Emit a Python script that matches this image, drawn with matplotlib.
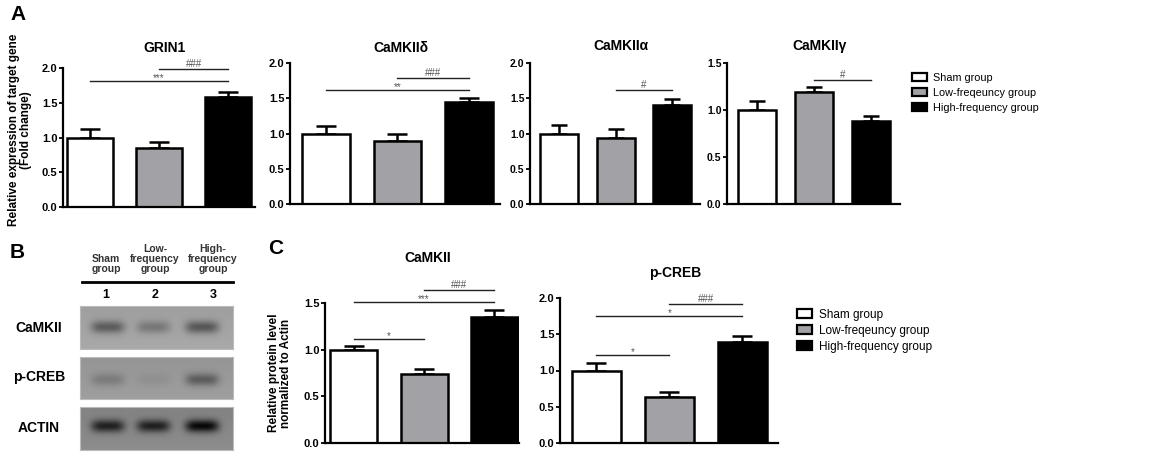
import numpy as np
import matplotlib.pyplot as plt
from matplotlib.patches import Patch

plt.rcParams["font.family"] = ["Liberation Sans", "DejaVu Sans"]

W, H = 1149, 453

groups = ["Sham group", "Low-freqeuncy group", "High-frequency group"]
bar_colors = ["#ffffff", "#a2a2a6", "#000000"]

# panel A: qPCR
grin1_mean = [1.00, 0.85, 1.58]
grin1_err = [0.12, 0.08, 0.08]
camk2d_mean = [1.00, 0.90, 1.45]
camk2d_err = [0.10, 0.10, 0.05]
camk2a_mean = [1.00, 0.94, 1.40]
camk2a_err = [0.12, 0.13, 0.09]
camk2g_mean = [1.00, 1.19, 0.885]
camk2g_err = [0.10, 0.05, 0.055]

# panel C: densitometry
prot_camk2_mean = [1.00, 0.74, 1.35]
prot_camk2_err = [0.035, 0.055, 0.08]
prot_pcreb_mean = [1.00, 0.63, 1.40]
prot_pcreb_err = [0.11, 0.08, 0.07]

# significance brackets: (from bar, to bar, y, label)
grin1_sig = [(1, 2, 1.99, "###"), (0, 2, 1.81, "***")]
camk2d_sig = [(1, 2, 1.79, "###"), (0, 2, 1.62, "**")]
camk2a_sig = [(1, 2, 1.62, "#")]
camk2g_sig = [(1, 2, 1.32, "#")]
prot_camk2_sig = [(1, 2, 1.64, "###"), (0, 2, 1.51, "***"), (0, 1, 1.11, "*")]
prot_pcreb_sig = [(1, 2, 1.92, "###"), (0, 2, 1.75, "*"), (0, 1, 1.21, "*")]

# panel B: western blot band strengths per lane
blot_rows = ["CaMKII", "p-CREB", "ACTIN"]
blot_band = {"CaMKII": [0.28, 0.17, 0.30], "p-CREB": [0.12, 0.04, 0.24], "ACTIN": [0.40, 0.40, 0.50]}
blot_bg = {"CaMKII": 0.64, "p-CREB": 0.60, "ACTIN": 0.53}
blot_band_y = {"CaMKII": 0.49, "p-CREB": 0.55, "ACTIN": 0.44}
lane_labels = ["Sham\ngroup", "Low-\nfrequency\ngroup", "High-\nfrequency\ngroup"]
lane_numbers = ["1", "2", "3"]

fig = plt.figure(figsize=(W / 100, H / 100), dpi=100)


def px_axes(x0, x1, y_top, y_bot):
    return fig.add_axes([x0 / W, 1 - y_bot / H, (x1 - x0) / W, (y_bot - y_top) / H])


def bar_panel(x0, x1, y_top, y_bot, xlim, ymax, means, errs, sigs, title, title_y, cap, tick_fs=8):
    ax = px_axes(x0, x1, y_top, y_bot)
    xs = np.arange(len(means))
    ax.bar(xs, means, width=0.67, color=bar_colors, edgecolor="black", linewidth=1.8, zorder=2)
    ax.errorbar(xs, means, yerr=[np.zeros(len(errs)), errs], fmt="none", ecolor="black",
                elinewidth=1.8, capsize=cap, capthick=1.8, zorder=1)
    for i, j, y, lab in sigs:
        ax.plot([i, j], [y, y], color="#222222", linewidth=1.0, clip_on=False)
        # asterisks sit high in the glyph box, hashes sit on the baseline
        dy = 0.0 if lab.startswith("*") else 1.5
        ax.annotate(lab, ((i + j) / 2, y), xytext=(0, dy), textcoords="offset points",
                    ha="center", va="baseline", fontsize=7, color="#555555",
                    annotation_clip=False)
    ax.set_xlim(*xlim)
    ax.set_ylim(0, ymax)
    ticks = np.arange(0, ymax + 0.01, 0.5)
    ax.set_yticks(ticks)
    ax.set_yticklabels([f"{v:.1f}" for v in ticks], fontweight="bold", fontsize=tick_fs)
    ax.set_xticks([])
    for s in ["top", "right"]:
        ax.spines[s].set_visible(False)
    for s in ["left", "bottom"]:
        ax.spines[s].set_linewidth(1.6)
    ax.tick_params(axis="y", length=3, width=1.3, pad=1)
    fig.text(((x0 + x1) / 2 + 6) / W, 1 - title_y / H, title, ha="center", va="center",
             fontsize=10, fontweight="bold")
    return ax


bar_panel(63, 255, 68, 207, (-0.39, 2.39), 2.0, grin1_mean, grin1_err, grin1_sig, "GRIN1", 48, 7)
bar_panel(290, 500, 63, 204, (-0.51, 2.44), 2.0, camk2d_mean, camk2d_err, camk2d_sig, "CaMKIIδ", 48, 7)
bar_panel(530, 700, 63, 204, (-0.51, 2.49), 2.0, camk2a_mean, camk2a_err, camk2a_sig, "CaMKIIα", 46, 6,
          7.5)
bar_panel(727, 900, 63, 204, (-0.53, 2.52), 1.5, camk2g_mean, camk2g_err, camk2g_sig, "CaMKIIγ", 46, 6,
          7.5)
bar_panel(325, 519, 303, 443, (-0.41, 2.35), 1.5, prot_camk2_mean, prot_camk2_err, prot_camk2_sig,
          "CaMKII", 258, 7)
bar_panel(560, 778, 298, 443, (-0.50, 2.49), 2.0, prot_pcreb_mean, prot_pcreb_err, prot_pcreb_sig,
          "p-CREB", 273, 7)

fig.text(20 / W, 1 - 130 / H, "Relative expression of target gene\n(Fold change)", rotation=90,
         ha="center", va="center", fontsize=8.5, fontweight="bold", linespacing=1.1)
fig.text(280 / W, 1 - 373 / H, "Relative protein level\nnormalized to Actin", rotation=90,
         ha="center", va="center", fontsize=8.5, fontweight="bold", linespacing=1.1)

# legends
handles = [Patch(facecolor=c, edgecolor="black", linewidth=1.6) for c in bar_colors]
fig.legend(handles, groups, loc="upper left", bbox_to_anchor=(902 / W, 1 - 63 / H), frameon=False,
           fontsize=7.8, handlelength=1.4, handleheight=0.85, labelspacing=0.45, handletextpad=0.6)
fig.legend(handles, groups, loc="upper left", bbox_to_anchor=(786 / W, 1 - 298 / H), frameon=False,
           fontsize=8.5, handlelength=1.3, handleheight=0.8, labelspacing=0.35, handletextpad=0.6)

# panel B blot
strip_y = {"CaMKII": (306, 349), "p-CREB": (357, 399), "ACTIN": (407, 450)}
label_y = {"CaMKII": 328, "p-CREB": 377, "ACTIN": 428}
lane_x = [0.18, 0.48, 0.80]
for row in blot_rows:
    y0, y1 = strip_y[row]
    ax = px_axes(80, 233, y0, y1)
    nx, ny = 153, 43
    gx = np.linspace(0, 1, nx)[None, :]
    gy = np.linspace(0, 1, ny)[:, None]
    img = np.full((ny, nx), blot_bg[row]) + 0.04 * (gy - 0.5)
    for lx, strength in zip(lane_x, blot_band[row]):
        prof_x = np.exp(-((gx - lx) / 0.11) ** 4)
        prof_y = np.exp(-((gy - blot_band_y[row]) / 0.15) ** 2)
        img = img - strength * prof_x * prof_y
    ax.imshow(img, cmap="gray", vmin=0, vmax=1, aspect="auto", interpolation="bilinear")
    ax.set_xticks([])
    ax.set_yticks([])
    for s in ax.spines.values():
        s.set_edgecolor("#bbbbbb")
        s.set_linewidth(0.8)
    fig.text(39 / W, 1 - label_y[row] / H, row, ha="center", va="center", fontsize=10, fontweight="bold")

lane_px = [106, 155, 213]
for lx, lab, num in zip(lane_px, lane_labels, lane_numbers):
    fig.text(lx / W, 1 - 274 / H, lab, ha="center", va="bottom", fontsize=7.5, fontweight="bold",
             color="#333333", linespacing=1.0)
    fig.text(lx / W, 1 - 295 / H, num, ha="center", va="center", fontsize=9, fontweight="bold")
fig.add_artist(plt.Line2D([82 / W, 233 / W], [1 - 282 / H, 1 - 282 / H], color="black", linewidth=2))

fig.text(10 / W, 1 - 15 / H, "A", ha="left", va="center", fontsize=15, fontweight="bold")
fig.text(10 / W, 1 - 252 / H, "B", ha="left", va="center", fontsize=15, fontweight="bold")
fig.text(268 / W, 1 - 248 / H, "C", ha="left", va="center", fontsize=15, fontweight="bold")

fig.savefig("out.png", dpi=100)
